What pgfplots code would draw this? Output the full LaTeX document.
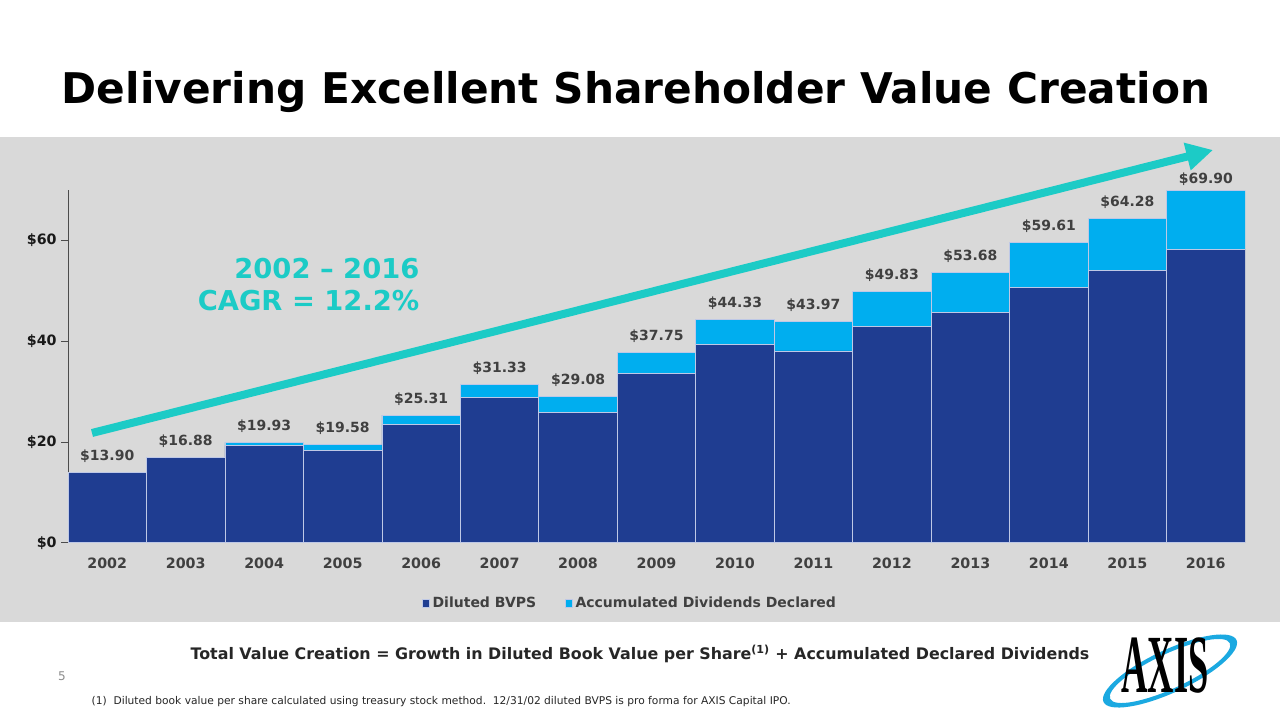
\documentclass[border=0pt]{standalone}
\usepackage{fontspec}
\setmainfont{DejaVu Sans}
\newfontfamily\logofont{Liberation Serif}
\usepackage{graphicx}
\usepackage{pgfplots}
\usepackage{pgfplotstable}
\pgfplotsset{compat=1.18}
\usetikzlibrary{arrows.meta}
\definecolor{dblue}{RGB}{31,61,145}
\definecolor{lblue}{RGB}{0,174,239}
\definecolor{ringblue}{RGB}{27,169,225}
\definecolor{tealc}{RGB}{28,203,198}
\definecolor{panel}{RGB}{217,217,217}
\definecolor{txt}{RGB}{64,64,64}
\definecolor{barline}{RGB}{190,200,230}

\pgfplotstableread{
year bvps div total
2002 13.90 0.00 13.90
2003 16.88 0.00 16.88
2004 19.30 0.63 19.93
2005 18.28 1.30 19.58
2006 23.41 1.90 25.31
2007 28.78 2.55 31.33
2008 25.80 3.28 29.08
2009 33.63 4.12 37.75
2010 39.33 5.00 44.33
2011 38.06 5.91 43.97
2012 42.93 6.90 49.83
2013 45.72 7.96 53.68
2014 50.62 8.99 59.61
2015 53.96 10.32 64.28
2016 58.28 11.62 69.90
}\data

\pgfplotsset{
  commonaxis/.style={
    at={(51pt,-407pt)}, anchor=south west,
    scale only axis, width=882.75pt, height=264.5pt,
    xmin=2001.5, xmax=2016.5, ymin=0, ymax=70,
  }
}

\begin{document}
\begin{tikzpicture}
\begin{scope}[x=0.75pt,y=-0.75pt]
\fill[white] (0,0) rectangle (1280,720);
\fill[panel] (0,137) rectangle (1280,622);
\node[anchor=base, font=\fontsize{31.7}{38}\selectfont\bfseries] at (636,104) {Delivering Excellent Shareholder Value Creation};
\end{scope}

\begin{axis}[
  commonaxis,
  ybar stacked, bar width=1,
  axis x line*=bottom, axis y line*=left,
  axis line style={-},
  x axis line style={draw=black!80, line width=0.9pt},
  y axis line style={draw=black!70, line width=0.6pt},
  xtick={2002,2003,2004,2005,2006,2007,2008,2009,2010,2011,2012,2013,2014,2015,2016},
  xticklabels={2002,2003,2004,2005,2006,2007,2008,2009,2010,2011,2012,2013,2014,2015,2016},
  ytick={0,20,40,60},
  yticklabels={\$0,\$20,\$40,\$60},
  ticklabel style={font=\fontsize{10.7}{12}\selectfont\bfseries},
  xticklabel style={text=txt, yshift=-2.8pt},
  yticklabel style={text=black!90},
  x tick style={draw=none},
  y tick style={draw=black!70, line width=0.6pt},
  tick align=outside, major tick length=5pt,
  legend style={at={(0.478,-0.171)}, anchor=center, draw=none, fill=none,
    legend columns=2, font=\fontsize{10.5}{12}\selectfont\bfseries, text=txt,
    /tikz/every even column/.append style={column sep=19pt},
    nodes={inner sep=2.5pt}},
  legend image code/.code={\fill[#1] (0pt,-3pt) rectangle (5pt,3pt);},
]
\addplot[fill=dblue, draw=barline, line width=0.5pt] table[x=year,y=bvps]{\data};
\addplot[fill=lblue, draw=barline, line width=0.5pt] table[x=year,y=div]{\data};
\legend{Diluted BVPS, Accumulated Dividends Declared}
\end{axis}

% total labels
\begin{axis}[commonaxis, hide axis, clip=false]
\addplot[draw=none, mark=none, point meta=explicit symbolic,
  nodes near coords={\$\pgfplotspointmeta},
  nodes near coords style={anchor=base, yshift=9pt, font=\fontsize{10.5}{12}\selectfont\bfseries, text=txt},
  skip coords between index={14}{15}]
  table[x=year,y=total,meta=total]{\data};
\addplot[draw=none, mark=none, point meta=explicit symbolic,
  nodes near coords={\$\pgfplotspointmeta},
  nodes near coords style={anchor=base, yshift=5pt, font=\fontsize{10.5}{12}\selectfont\bfseries, text=txt},
  skip coords between index={0}{14}]
  table[x=year,y=total,meta=total]{\data};
\end{axis}

\begin{scope}[x=0.75pt,y=-0.75pt]
\draw[tealc, line width=6pt, -{Triangle[length=20pt,width=20pt]}] (92,433) -- (1213,150);
\node[anchor=base east, font=\fontsize{20.5}{24}\selectfont\bfseries, text=tealc] at (424,278.5) {2002 – 2016};
\node[anchor=base east, font=\fontsize{20.5}{24}\selectfont\bfseries, text=tealc] at (424,310) {CAGR = 12.2\%};
\node[anchor=base, font=\fontsize{11.9}{14}\selectfont\bfseries, text=black!85] at (640,659) {Total Value Creation = Growth in Diluted Book Value per Share\textsuperscript{(1)} + Accumulated Declared Dividends};
\node[anchor=base west, font=\fontsize{8}{9}\selectfont, text=black!85] at (87,704) {(1)\ \ Diluted book value per share calculated using treasury stock method.\ \ 12/31/02 diluted BVPS is pro forma for AXIS Capital IPO.};
\node[anchor=base, font=\fontsize{9}{10}\selectfont, text=black!45] at (62,680) {5};
% logo
\fill[ringblue, even odd rule, rotate around={25:(1170,671)}]
  (1170,671) ellipse [x radius=55pt, y radius=16pt]
  (1170,671) ellipse [x radius=49.5pt, y radius=13pt];
\node at (1165,666) {\scalebox{0.44}[1]{\logofont\fontsize{62}{62}\selectfont\bfseries AXIS}};
\end{scope}
\end{tikzpicture}
\end{document}
